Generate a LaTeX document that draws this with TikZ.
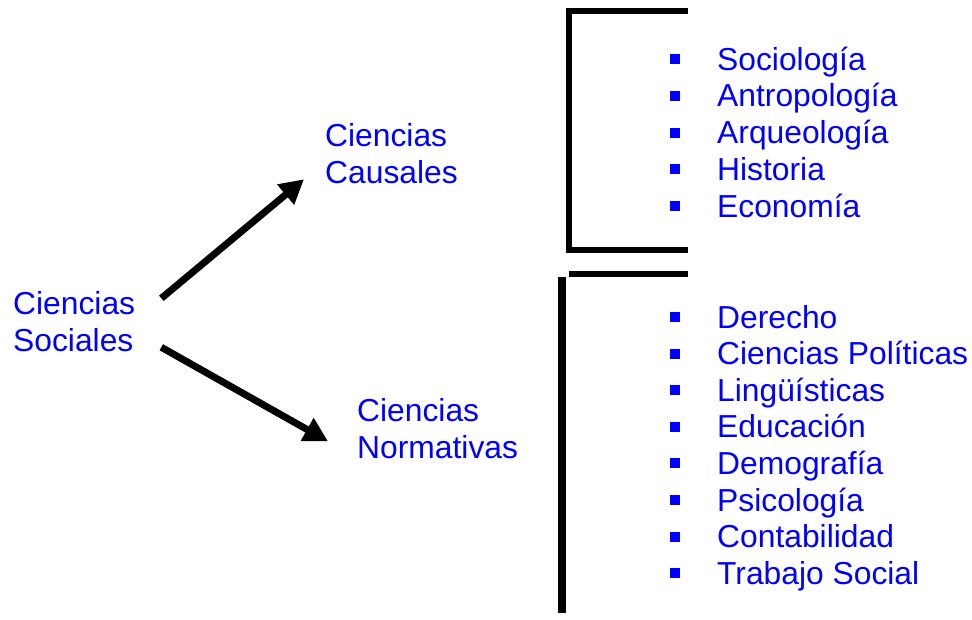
\documentclass[tikz,border=0pt]{standalone}
\usepackage{fontspec}
\setmainfont{Liberation Sans}
\usepackage{tikz}
\usetikzlibrary{arrows.meta}

\tikzset{
  lbl/.style={text=blue, anchor=base west, inner sep=0pt, align=left, font=\fontsize{31.8}{36.7}\selectfont},
  arr/.style={line width=7pt, -{Triangle[length=24pt, width=25pt]}},
  brk/.style={line width=6pt, line join=miter},
}

\begin{document}
\begin{tikzpicture}[x=1pt, y=-1pt]
\useasboundingbox (0,0) rectangle (972,619);
% two-line labels sit on their last baseline
\node[lbl] (soc) at (13,351) {Ciencias\\Sociales};
\node[lbl] (cau) at (325,183) {Ciencias\\Causales};
\node[lbl] (nor) at (357,458) {Ciencias\\Normativas};
\draw[arr] ([shift={(26,-23)}]soc.east) -- ([shift={(-21,26)}]cau.west);
\draw[arr] ([shift={(26,26)}]soc.east) -- ([shift={(-29,13)}]nor.west);

%brackets
\draw[brk] (688,11) -- (569,11) -- (569,250) -- (688,250);
\draw[brk] (569,274) -- (688,274);
\draw[line width=8pt] (562,277) -- (562,613);

%lists
\foreach \t [count=\i] in {Sociología, Antropología, Arqueología, Historia, Economía}{
	\node[lbl] (c\i) at (717, 70+36.75*\i-36.75) {\t};
	\fill[blue] ([shift={(-47,-16)}]c\i.base west) rectangle +(10,10);
}
\foreach \t [count=\i] in {Derecho, Ciencias Políticas, Lingüísticas, Educación, Demografía, Psicología, Contabilidad, Trabajo Social}{
	\node[lbl] (n\i) at (717, 328+36.6*\i-36.6) {\t};
	\fill[blue] ([shift={(-47,-16)}]n\i.base west) rectangle +(10,10);
}
\end{tikzpicture}
\end{document}
